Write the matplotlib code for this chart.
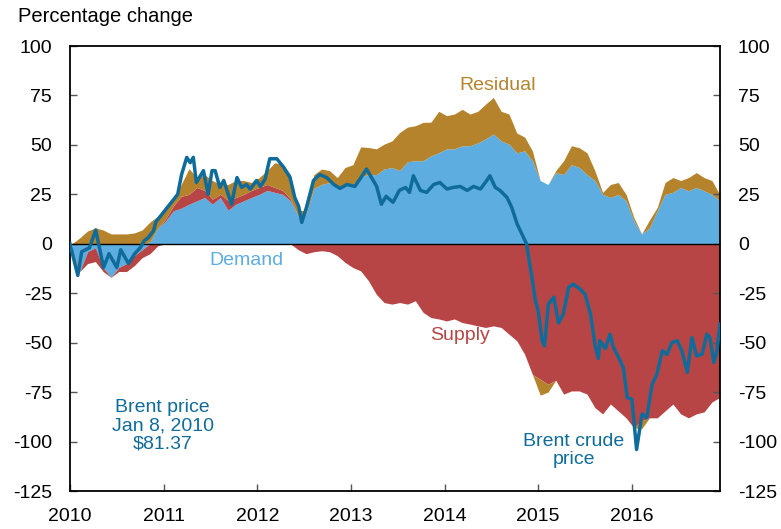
import matplotlib
matplotlib.use("Agg")
import matplotlib.pyplot as plt
import numpy as np

plt.rcParams['font.family'] = ['Liberation Sans', 'DejaVu Sans']
plt.rcParams['axes.unicode_minus'] = False

# monthly contributions (percentage change), Jan 2010 .. Dec 2016
demand = [-3, -14, -4, -2, -12, -17, -12, -10, -6, -3, 1, 8,
          11.5, 16.7, 18, 20, 21.7, 23.4, 20, 23.4, 17, 20, 21.7, 23.4,
          25, 27, 26, 25, 21.7, 14, 15, 28, 30, 31, 28.5, 30,
          30, 34, 35, 35, 37.8, 38.6, 37, 41.5, 42, 42, 44.5, 46,
          48, 48, 49.6, 49.6, 51, 53, 55.5, 52, 50.4, 46, 47, 42,
          32, 30, 36, 35, 40, 38.6, 35, 32, 25, 23.4, 25, 21.7,
          11.6, 5, 8, 16.7, 25, 26, 28.5, 26.8, 28.5, 26.8, 25, 21.7]
supply = [-2, 0, -6, -7, -2, 0, -2, -4, -5, -4, -5, -1,
          1, 2.5, 6, 5, 6.8, 3.6, 2.6, 1.6, 5, 3.4, 3.3, 3.6,
          3.5, 3, 2.5, 2, 1, -3, -5, -4, -3.5, -4, -6, -9.4,
          -12, -13.7, -18.7, -25.5, -29.7, -30.5, -29.7, -30.5, -28.8, -34.7, -37.3, -38,
          -39, -38, -39.8, -40.6, -41.5, -42.3, -41.5, -42.3, -45.7, -49, -55.8, -66,
          -68.5, -71, -69, -76, -74.4, -74.4, -76, -82.8, -86, -81, -84.5, -88,
          -93, -89.5, -88, -88, -84.5, -81, -86, -88, -86, -85, -80, -77.7]
residual = [0, 3, 6.5, 8, 7, 5, 5, 5, 5.5, 7, 10, 6,
            6.5, 4.2, 6, 13, 5, 8, 9.4, 5, 8, 8.6, 7, 4,
            5, 7, 12.5, 13, 12.3, 3, 1.7, 7, 7.8, 6, 5, 8.6,
            10, 15, 13.7, 13, 12.6, 13.4, 19.3, 17.5, 17.7, 19.4, 17, 21,
            16.8, 17.6, 18.4, 16, 16, 17.6, 18.5, 15, 15.2, 10, 7, 5,
            -8, -4, 1, 7, 9.6, 10, 11, 5, 1, 6.6, 6, 3.3,
            1.7, -4, 4, 1.7, 6, 7.5, 3.5, 6.7, 7.5, 6.7, 7, 3.3]

# Brent crude price, change since Jan 8, 2010 (months since Jan 2010, percent)
price_m = [0, 0.5, 1, 1.5, 2.5, 3.3, 4.3, 5, 6, 6.5, 7.5, 8.3, 9, 9.5, 10, 10.7, 11,
           12, 13, 13.8, 14.3, 14.96, 15.4, 15.8, 16.2, 17.1, 17.7, 18.2, 18.6, 19.2,
           19.7, 20.7, 21.4, 22, 22.6, 23.1, 23.9, 24.4, 25, 25.6, 26.5, 27.4, 28.2,
           28.8, 29.3, 29.7, 30.3, 31.2, 32, 32.9, 33.8, 34.6, 35.5, 36.5, 37.2, 38,
           39.3, 39.9, 40.5, 41.4, 42.2, 43, 43.5, 44, 44.9, 45.7, 46.6, 47.4, 48.3,
           49.1, 50, 50.9, 51.7, 52.6, 53.4, 53.8, 54.5, 55.1, 56, 56.6, 57.3, 57.9,
           58.5, 58.9, 59.2, 59.6, 60, 60.5, 60.8, 61.3, 62, 62.6, 63.2, 63.9, 64.5,
           65.4, 66, 66.7, 67.3, 67.7, 67.9, 68.6, 69.2, 69.6, 70.3, 70.9, 71.4, 72,
           72.6, 73.3, 73.9, 74.6, 75.2, 75.9, 76.5, 77.1, 77.8, 78.4, 79.1, 79.7,
           80.3, 81, 81.6, 82, 82.5, 82.9, 83.3]
price = [0, -8, -16, -4, -2, 7, -12, -5, -12, -3, -10, -5, -2, 1.5, 3, 6.5, 11,
         16, 21, 25, 35, 43.7, 41, 43.7, 31, 37, 25, 37, 37, 28.5,
         32, 20, 33.5, 28.5, 30, 27.6, 32, 29, 32.7, 43, 43, 38.6, 33.5,
         23.4, 19, 10.8, 18.4, 32, 35, 33.5, 30, 28, 30, 29, 33, 37.8,
         29, 20, 24, 21, 27, 28.5, 26, 34.4, 27, 26, 30, 31, 27.7,
         28.5, 29, 27, 29, 27.7, 32, 34.4, 28.5, 27, 23.4, 18.4, 10, 5,
         0, -10, -17, -28, -34, -49, -51.6, -30.5, -27, -40, -35.6, -22, -20.4,
         -23, -25.5, -35.6, -51.6, -58, -49, -53, -45.7, -52, -57.5, -62.6, -77.7, -78.6,
         -104, -86, -88, -71, -66, -54, -56, -50, -49, -54, -65, -47.4,
         -56.7, -55.8, -45.7, -47.4, -60, -54, -40.6]

c_dem = '#5eade0'
c_sup = '#b84545'
c_res = '#b5832c'
c_price = '#0f6c9a'

t = 2010 + (np.arange(len(demand)) + 0.25) / 12
pt = 2010 + np.array(price_m) / 12

comps = [np.array(demand, float), np.array(supply, float), np.array(residual, float)]
colors = [c_dem, c_sup, c_res]

fig = plt.figure(figsize=(7.81, 5.29), dpi=100)
ax = fig.add_axes([0.0896, 0.0718, 0.8322, 0.8412])

pos_base = np.zeros(len(t))
neg_base = np.zeros(len(t))
for vals, col in zip(comps, colors):
    p = np.clip(vals, 0, None)
    n = np.clip(vals, None, 0)
    ax.fill_between(t, pos_base, pos_base + p, color=col, lw=0)
    ax.fill_between(t, neg_base, neg_base + n, color=col, lw=0)
    pos_base = pos_base + p
    neg_base = neg_base + n

ax.axhline(0, color='black', lw=1, zorder=3)
ax.plot(pt, price, color=c_price, lw=2.5, zorder=4)

ax.set_xlim(2010, 2016.94)
ax.set_ylim(-125, 100)
ax.set_xticks(range(2010, 2017))
ax.set_yticks(range(-125, 101, 25))
ax.tick_params(axis='both', direction='in', length=5, width=1, labelsize=14,
               color='#555555')
ax.tick_params(axis='y', right=True, labelright=True, pad=13)
ax.tick_params(axis='x', pad=12)
for s in ax.spines.values():
    s.set_linewidth(1.3)

fs = 14
ax.text(2014.57, 80, 'Residual', color=c_res, fontsize=fs, ha='center', va='center')
ax.text(2011.88, -8.6, 'Demand', color=c_dem, fontsize=fs, ha='center', va='center')
ax.text(2014.16, -46.5, 'Supply', color=c_sup, fontsize=fs, ha='center', va='center')
ax.text(2010.99, -92, 'Brent price\nJan 8, 2010\n$81.37', color=c_price, fontsize=fs,
        ha='center', va='center', linespacing=1.12)
ax.text(2015.38, -104.6, 'Brent crude\nprice', color=c_price, fontsize=fs,
        ha='center', va='center', linespacing=1.12)
fig.text(18 / 781, 1 - 16 / 529, 'Percentage change', fontsize=14.5, ha='left', va='center')

fig.savefig('out.png', dpi=100)
